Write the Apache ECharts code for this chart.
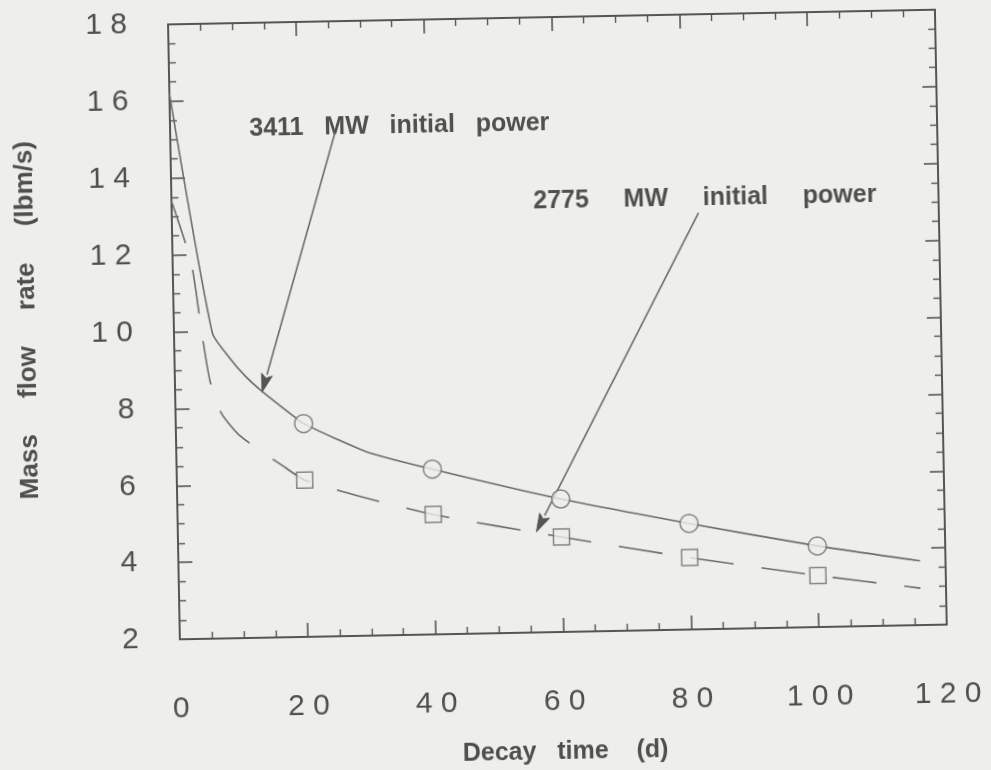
<!DOCTYPE html>
<html>
<head>
<meta charset="utf-8">
<script src="https://cdn.jsdelivr.net/npm/echarts@6/dist/echarts.min.js"></script>
<style>
  html, body { margin: 0; padding: 0; background: #eeeeeb; overflow: hidden; }
  #chart { width: 991px; height: 770px; transform: rotate(-1.1deg); transform-origin: 557.75px 330.25px; }
</style>
</head>
<body>
<div id="chart"></div>
<script>
// Mass flow rate needed to remove decay heat, for two initial reactor powers
const solidDays  = [0, 6, 8.6, 11.1, 13.6, 18.8, 20, 25, 30, 40, 60, 80, 100, 116];
const solidFlow  = [16.2, 9.95, 9.30, 8.80, 8.41, 7.70, 7.55, 7.14, 6.77, 6.30, 5.46, 4.76, 4.11, 3.67];
const dashedDays = [0, 2.9, 4.4, 5.5, 7.2, 10.1, 16.7, 20, 28.3, 40, 60, 80, 100, 116];
const dashedFlow = [13.4, 11.8, 9.9, 8.7, 7.85, 7.25, 6.45, 6.08, 5.64, 5.12, 4.47, 3.87, 3.34, 2.96];
const markerDays = [20, 40, 60, 80, 100];

const xTicks = [0, 120, 20];   // min, max, step
const yTicks = [2, 18, 2];

const noteTexts  = ['3411   MW   initial   power', '2775     MW     initial     power'];
const noteAnchor = [[12.4, 15.24], [56.6, 13.2]];
const arrowTail  = [[25.8, 15.11], [82.4, 12.83]];
const arrowHead  = [[13.6, 8.39], [56.1, 4.62]];

const INK = '#4f4f4f';
const LINE = '#6c6c6c';
const BG = '#eeeeeb';
const FONT = '"Liberation Sans", Arial, Helvetica, sans-serif';

const pairs = (xs, ys) => xs.map((x, i) => [x, ys[i]]);
const markersOf = (xs, ys) => markerDays.map(d => [d, ys[xs.indexOf(d)]]);
const spaced = v => String(v).split('').join(' ');

const chart = echarts.init(document.getElementById('chart'), null, { renderer: 'canvas' });

const baseAxis = {
  type: 'value',
  axisLine: { show: true, onZero: false, lineStyle: { color: '#555', width: 2 } },
  axisTick: { show: true, inside: true, length: 14, lineStyle: { color: '#555', width: 1.6 } },
  minorTick: { show: true, splitNumber: 4, length: 7, lineStyle: { color: '#555', width: 1.4 } },
  splitLine: { show: false },
  minorSplitLine: { show: false }
};

const tickLabel = { fontFamily: FONT, fontSize: 30, color: INK };

const option = {
  backgroundColor: BG,
  animation: false,
  grid: { left: 174, top: 17, width: 767, height: 626 },
  xAxis: [
    Object.assign({}, baseAxis, {
      position: 'bottom', min: xTicks[0], max: xTicks[1], interval: xTicks[2],
      axisLabel: Object.assign({ margin: 55, formatter: spaced }, tickLabel),
      name: 'Decay   time    (d)', nameLocation: 'middle', nameGap: 108,
      nameTextStyle: { fontFamily: FONT, fontSize: 25, fontWeight: 'bold', color: INK }
    }),
    Object.assign({}, baseAxis, {
      position: 'top', min: xTicks[0], max: xTicks[1], interval: xTicks[2],
      axisLabel: { show: false }
    })
  ],
  yAxis: [
    Object.assign({}, baseAxis, {
      position: 'left', min: yTicks[0], max: yTicks[1], interval: yTicks[2],
      axisLabel: Object.assign({ margin: 41, formatter: spaced, padding: [10, 0, 0, 0] }, tickLabel)
    }),
    Object.assign({}, baseAxis, {
      position: 'right', min: yTicks[0], max: yTicks[1], interval: yTicks[2],
      axisLabel: { show: false }
    })
  ],
  series: [
    {
      name: '3411 MW', type: 'line', data: pairs(solidDays, solidFlow),
      smooth: 0.2, showSymbol: false, silent: true,
      lineStyle: { color: LINE, width: 1.6 }, z: 2
    },
    {
      name: '2775 MW', type: 'line', data: pairs(dashedDays, dashedFlow),
      smooth: 0.2, showSymbol: false, silent: true,
      lineStyle: { color: LINE, width: 1.6, type: [44, 28] }, z: 2
    },
    {
      type: 'scatter', data: markersOf(solidDays, solidFlow), symbol: 'circle', symbolSize: 18,
      itemStyle: { color: BG, borderColor: LINE, borderWidth: 1.5 }, silent: true, z: 3
    },
    {
      type: 'scatter', data: markersOf(dashedDays, dashedFlow), symbol: 'rect', symbolSize: 16,
      itemStyle: { color: BG, borderColor: LINE, borderWidth: 1.5 }, silent: true, z: 3
    }
  ]
};

chart.setOption(option);

// Annotation texts and arrows, anchored in data coordinates
const toPx = p => chart.convertToPixel({ gridIndex: 0 }, p);
const graphics = [];
noteTexts.forEach((t, i) => {
  const p = toPx(noteAnchor[i]);
  graphics.push({
    type: 'text', x: p[0], y: p[1], silent: true,
    style: { text: t, font: 'bold 25px ' + FONT, fill: INK, align: 'left', verticalAlign: 'middle' }
  });
});
arrowTail.forEach((a, i) => {
  const s = toPx(a), e = toPx(arrowHead[i]);
  const dx = e[0] - s[0], dy = e[1] - s[1];
  const len = Math.hypot(dx, dy), ux = dx / len, uy = dy / len;
  const L = 18, W = 5.5;
  const bx = e[0] - ux * L, by = e[1] - uy * L;
  graphics.push({
    type: 'line', silent: true,
    shape: { x1: s[0], y1: s[1], x2: bx, y2: by },
    style: { stroke: LINE, lineWidth: 1.6 }
  });
  graphics.push({
    type: 'polygon', silent: true,
    shape: { points: [e, [bx - uy * W, by + ux * W], [e[0] - ux * L * 0.8, e[1] - uy * L * 0.8], [bx + uy * W, by - ux * W]] },
    style: { fill: '#555', stroke: '#555', lineWidth: 1 }
  });
});
chart.setOption({
  graphic: graphics.concat([{
    type: 'text', x: 28, y: 310, rotation: Math.PI / 2, silent: true,
    style: { text: 'Mass     flow     rate     (lbm/s)', font: 'bold 26px ' + FONT,
             fill: INK, align: 'center', verticalAlign: 'middle' }
  }])
});
</script>
</body>
</html>
